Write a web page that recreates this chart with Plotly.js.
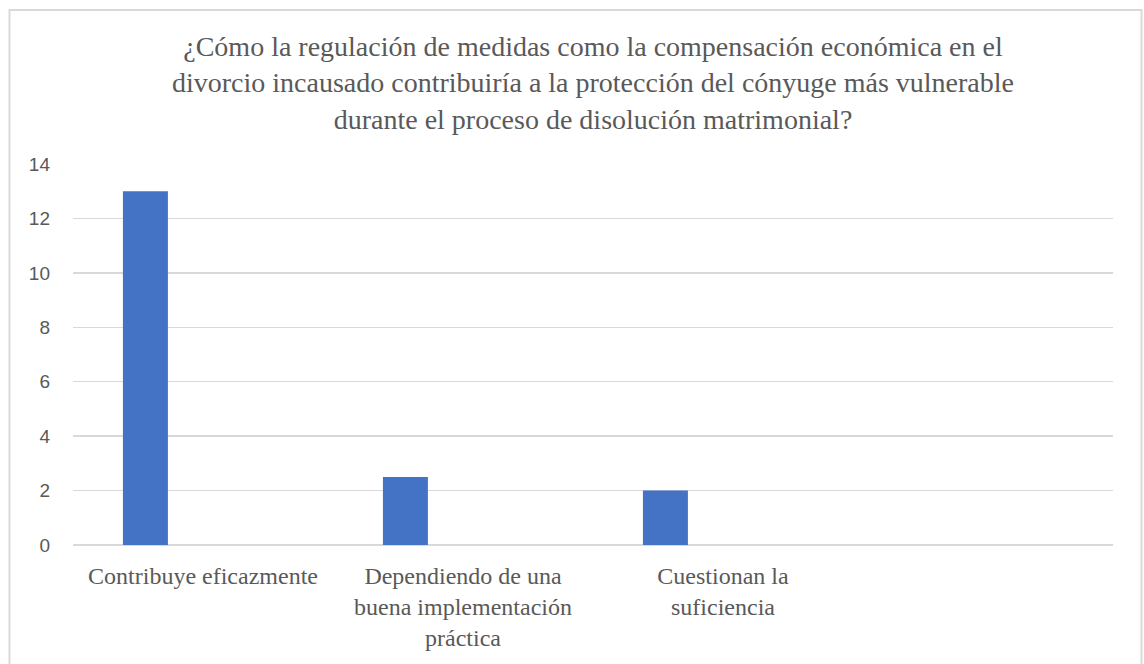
<!DOCTYPE html>
<html>
<head>
<meta charset="utf-8">
<script src="https://cdn.plot.ly/plotly-3.0.1.min.js"></script>
<style>html,body{margin:0;padding:0;background:#fff;}#chart{width:1144px;height:664px;}</style>
</head>
<body>
<div id="chart"></div>
<script>
const categories = ["Contribuye eficazmente", "Dependiendo de una<br>buena implementación<br>práctica", "Cuestionan la<br>suficiencia", " "];
const values = [13, 2.5, 2, null];
const yTicks = [0, 2, 4, 6, 8, 10, 12, 14];
const titleText = "¿Cómo la regulación de medidas como la compensación económica en el<br>divorcio incausado contribuiría a la protección del cónyuge más vulnerable<br>durante el proceso de disolución matrimonial?";

const L = 73, R = 31, T = 164, B = 119;
const W = 1144 - L - R, H = 664 - T - B;
const px = v => (v - L) / W;
const py = v => (664 - B - v) / H;
const SERIF = '"Liberation Serif", "Times New Roman", serif';

Plotly.newPlot('chart', [{
  type: 'bar',
  x: categories,
  y: values,
  marker: {color: '#4472c4'},
  offset: -0.308,
  width: 0.173,
  hoverinfo: 'x+y'
}], {
  width: 1144, height: 664,
  margin: {l: L, r: R, t: T, b: B, pad: 0},
  paper_bgcolor: '#ffffff',
  plot_bgcolor: '#ffffff',
  showlegend: false,
  title: {
    text: titleText,
    font: {family: SERIF, size: 28, color: '#595959'},
    x: 0.5, xanchor: 'center', xref: 'paper',
    y: 1 - 56/664, yanchor: 'top', yref: 'container'
  },
  xaxis: {
    type: 'category',
    range: [-0.5, 3.5],
    showgrid: false,
    zeroline: false,
    showline: false,
    ticks: '',
    ticklabelstandoff: 14,
    tickfont: {family: SERIF, size: 24, color: '#595959'},
    fixedrange: true
  },
  yaxis: {
    range: [0, 14],
    tickvals: yTicks,
    ticktext: yTicks.map(String),
    showgrid: true,
    gridcolor: '#d9d9d9',
    gridwidth: 1.5,
    zeroline: true,
    zerolinecolor: '#d9d9d9',
    zerolinewidth: 1.5,
    showline: false,
    ticks: '',
    ticklabelstandoff: 22,
    tickfont: {family: '"Liberation Sans", Arial, sans-serif', size: 19, color: '#595959'},
    fixedrange: true
  },
  shapes: [{
    type: 'rect', xref: 'paper', yref: 'paper',
    x0: px(9.5), x1: px(1141.5), y0: py(700), y1: py(10),
    line: {color: '#d9d9d9', width: 2},
    fillcolor: 'rgba(0,0,0,0)',
    layer: 'below'
  }]
}, {displayModeBar: false, staticPlot: true});
</script>
</body>
</html>
